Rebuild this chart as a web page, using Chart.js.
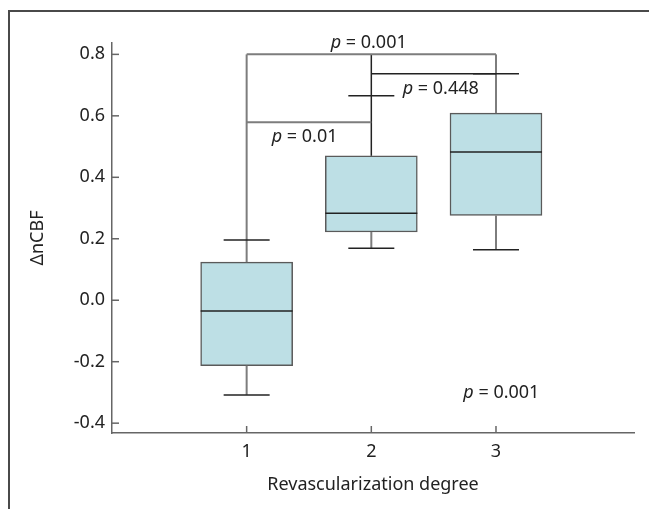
<!DOCTYPE html>
<html>
<head>
<meta charset="utf-8">
<script src="https://cdn.jsdelivr.net/npm/chart.js@4.4.0/dist/chart.umd.min.js"></script>
<style>
  html, body { margin: 0; padding: 0; background: #fff; }
</style>
</head>
<body>
<canvas id="chart" width="649" height="509"></canvas>
<script>
// values
const categories = [1, 2, 3];
const q1 = [-0.213, 0.222, 0.276];
const median = [-0.035, 0.283, 0.482];
const q3 = [0.124, 0.470, 0.609];
const whiskerLow = [-0.308, 0.169, 0.164];
const whiskerHigh = [0.196, 0.665, 0.737];
const yTicks = [-0.4, -0.2, 0, 0.2, 0.4, 0.6, 0.8];

// pairwise comparisons (category from/to, bracket level, p value)
const bracketFrom = [1, 1, 2];
const bracketTo = [3, 2, 3];
const bracketLevel = [0.8, 0.579, 0.737];
const bracketP = ['0.001', '0.01', '0.448'];

// text anchors in data units (left edge x, middle y)
const pLabelX = [1.674, 1.201, 2.252, 2.738];
const pLabelY = [0.839, 0.533, 0.687, -0.301];
const pLabelText = ['0.001', '0.01', '0.448', '0.001'];

const FONT = '"Noto Sans", sans-serif';
const GRAY = '#7d7d7d';
const DARK = '#222';

const boxExtras = {
    id: 'boxExtras',
    beforeDraw(chart) {
        // outer frame of the figure panel
        const ctx = chart.ctx;
        ctx.save();
        ctx.strokeStyle = '#4a4a4a';
        ctx.lineWidth = 2;
        ctx.beginPath();
        ctx.moveTo(9, 509);
        ctx.lineTo(9, 11);
        ctx.lineTo(649, 11);
        ctx.stroke();
        ctx.restore();
    },
    afterDatasetsDraw(chart) {
        const ctx = chart.ctx;
        const x = chart.scales.x, y = chart.scales.y;
        const bars = chart.getDatasetMeta(0).data;
        const line = (x1, y1, x2, y2, color, w) => {
            ctx.strokeStyle = color;
            ctx.lineWidth = w;
            ctx.beginPath();
            ctx.moveTo(x1, y1);
            ctx.lineTo(x2, y2);
            ctx.stroke();
        };
        ctx.save();
        const top = Math.max(...bracketLevel);
        categories.forEach((c, i) => {
            const cx = x.getPixelForValue(c);
            const half = bars[i].width / 2;
            // lower whisker + cap
            line(cx, y.getPixelForValue(q1[i]), cx, y.getPixelForValue(whiskerLow[i]), GRAY, 2);
            line(cx - half / 2, y.getPixelForValue(whiskerLow[i]), cx + half / 2, y.getPixelForValue(whiskerLow[i]), DARK, 1.5);
            // upper whisker runs up into the comparison brackets
            line(cx, y.getPixelForValue(q3[i]), cx, y.getPixelForValue(top), i === 1 ? DARK : GRAY, i === 1 ? 1.5 : 2);
            line(cx - half / 2, y.getPixelForValue(whiskerHigh[i]), cx + half / 2, y.getPixelForValue(whiskerHigh[i]), DARK, 1.5);
            // median
            line(cx - half, y.getPixelForValue(median[i]), cx + half, y.getPixelForValue(median[i]), DARK, 1.5);
        });
        bracketLevel.forEach((lv, i) => {
            const py = y.getPixelForValue(lv);
            const dark = bracketP[i] === '0.448';
            line(x.getPixelForValue(bracketFrom[i]), py, x.getPixelForValue(bracketTo[i]), py, dark ? DARK : GRAY, dark ? 1.5 : 2);
        });
        // inward tick marks
        y.ticks.forEach(t => {
            const py = y.getPixelForValue(t.value);
            line(x.left, py, x.left + 7, py, '#666', 1.5);
        });
        x.ticks.forEach(t => {
            const px = x.getPixelForValue(t.value);
            line(px, y.bottom, px, y.bottom - 7, '#666', 1.5);
        });
        ctx.restore();
    },
    afterDraw(chart) {
        const ctx = chart.ctx;
        const x = chart.scales.x, y = chart.scales.y;
        ctx.save();
        ctx.fillStyle = DARK;
        ctx.textBaseline = 'middle';
        pLabelText.forEach((txt, i) => {
            let px = x.getPixelForValue(pLabelX[i]);
            const py = y.getPixelForValue(pLabelY[i]);
            ctx.font = 'italic 18px ' + FONT;
            ctx.fillText('p', px, py);
            px += ctx.measureText('p').width;
            ctx.font = '18px ' + FONT;
            ctx.fillText(' = ' + txt, px, py);
        });
        ctx.restore();
    }
};

new Chart(document.getElementById('chart'), {
    type: 'bar',
    data: {
        datasets: [{
            data: categories.map((c, i) => ({ x: c, y: [q1[i], q3[i]] })),
            backgroundColor: '#bddfe5',
            borderColor: '#5a5a5a',
            borderWidth: 1.5,
            borderSkipped: false,
            barThickness: 92
        }]
    },
    options: {
        responsive: false,
        animation: false,
        layout: { padding: { top: 43, right: 15, left: 0, bottom: 0 } },
        plugins: { legend: { display: false }, tooltip: { enabled: false } },
        scales: {
            x: {
                type: 'linear',
                offset: false,
                min: -0.08,
                max: 4.107,
                afterBuildTicks: s => { s.ticks = categories.map(v => ({ value: v })); },
                afterFit: s => { s.height = 76; },
                grid: { display: false, drawTicks: false },
                border: { display: true, color: '#666', width: 1.5 },
                ticks: { color: DARK, font: { family: FONT, size: 18 }, padding: 8 },
                title: {
                    display: true,
                    text: 'Revascularization degree',
                    color: DARK,
                    font: { family: FONT, size: 18 },
                    padding: { bottom: 13 }
                }
            },
            y: {
                min: -0.432,
                max: 0.837,
                afterBuildTicks: s => { s.ticks = yTicks.map(v => ({ value: v })); },
                afterFit: s => { s.width = 112; },
                grid: { display: false, drawTicks: false },
                border: { display: true, color: '#666', width: 1.5 },
                ticks: { color: DARK, font: { family: FONT, size: 18 }, padding: 7, callback: v => v.toFixed(1) },
                title: {
                    display: true,
                    text: 'ΔnCBF',
                    color: DARK,
                    font: { family: FONT, size: 18 },
                    padding: { top: 27 }
                }
            }
        }
    },
    plugins: [boxExtras]
});
</script>
</body>
</html>
